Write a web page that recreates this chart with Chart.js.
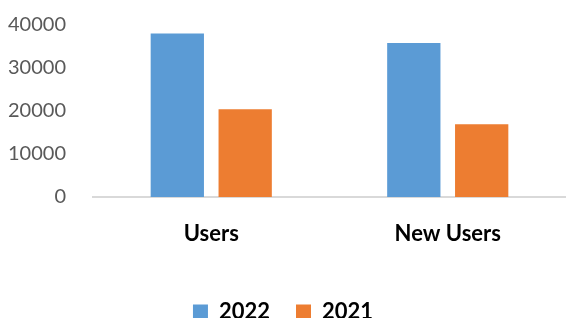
<!DOCTYPE html>
<html>
<head>
<meta charset="utf-8">
<script src="https://cdn.jsdelivr.net/npm/chart.js@4"></script>
<style>
  html, body { margin: 0; padding: 0; background: #fff; }
  #wrap { width: 566px; height: 318px; }
</style>
</head>
<body>
<div id="wrap"><canvas id="grafico"></canvas></div>
<script>
const categorias = ['Users', 'New Users'];
const serie2022 = [38000, 35800];
const serie2021 = [20400, 16900];
const etiquetasSeries = ['2022', '2021'];
const ticksY = [0, 10000, 20000, 30000, 40000];

const colores = ['#5B9BD5', '#ED7D31'];

let ctx = document.getElementById('grafico').getContext('2d');
let grafico = new Chart(ctx, {
    type: 'bar',
    data: {
        labels: categorias,
        datasets: [{
            label: etiquetasSeries[0],
            data: serie2022,
            backgroundColor: colores[0],
            categoryPercentage: 0.574,
            barPercentage: 0.785
        }, {
            label: etiquetasSeries[1],
            data: serie2021,
            backgroundColor: colores[1],
            categoryPercentage: 0.574,
            barPercentage: 0.785
        }]
    },
    options: {
        responsive: true,
        maintainAspectRatio: false,
        animation: false,
        layout: {
            padding: { top: 25, right: 0, left: 0, bottom: -15 }
        },
        plugins: {
            title: { display: false },
            tooltip: { enabled: false },
            legend: {
                position: 'bottom',
                labels: {
                    boxWidth: 15,
                    boxHeight: 15,
                    padding: 26,
                    color: '#000',
                    font: { family: 'Lato', size: 22, weight: 'bold' }
                }
            }
        },
        scales: {
            x: {
                afterFit: function (escala) { escala.height = 78; },
                grid: { display: false, drawTicks: false },
                border: { display: true, color: '#d9d9d9', width: 2 },
                ticks: {
                    color: '#000',
                    padding: 24,
                    font: { family: 'Lato', size: 22, weight: 'bold' }
                }
            },
            y: {
                min: 0,
                max: 40000,
                afterFit: function (escala) {
                    escala.width = 93;
                    escala.paddingTop = 0;
                    escala.paddingBottom = 0;
                },
                afterBuildTicks: function (escala) {
                    escala.ticks = ticksY.map(v => ({ value: v }));
                },
                grid: { display: false, drawTicks: false },
                border: { display: false },
                ticks: {
                    color: '#595959',
                    padding: 27,
                    font: { family: 'Lato', size: 20 },
                    callback: function (valor) { return String(valor); }
                }
            }
        }
    }
});
</script>
</body>
</html>
